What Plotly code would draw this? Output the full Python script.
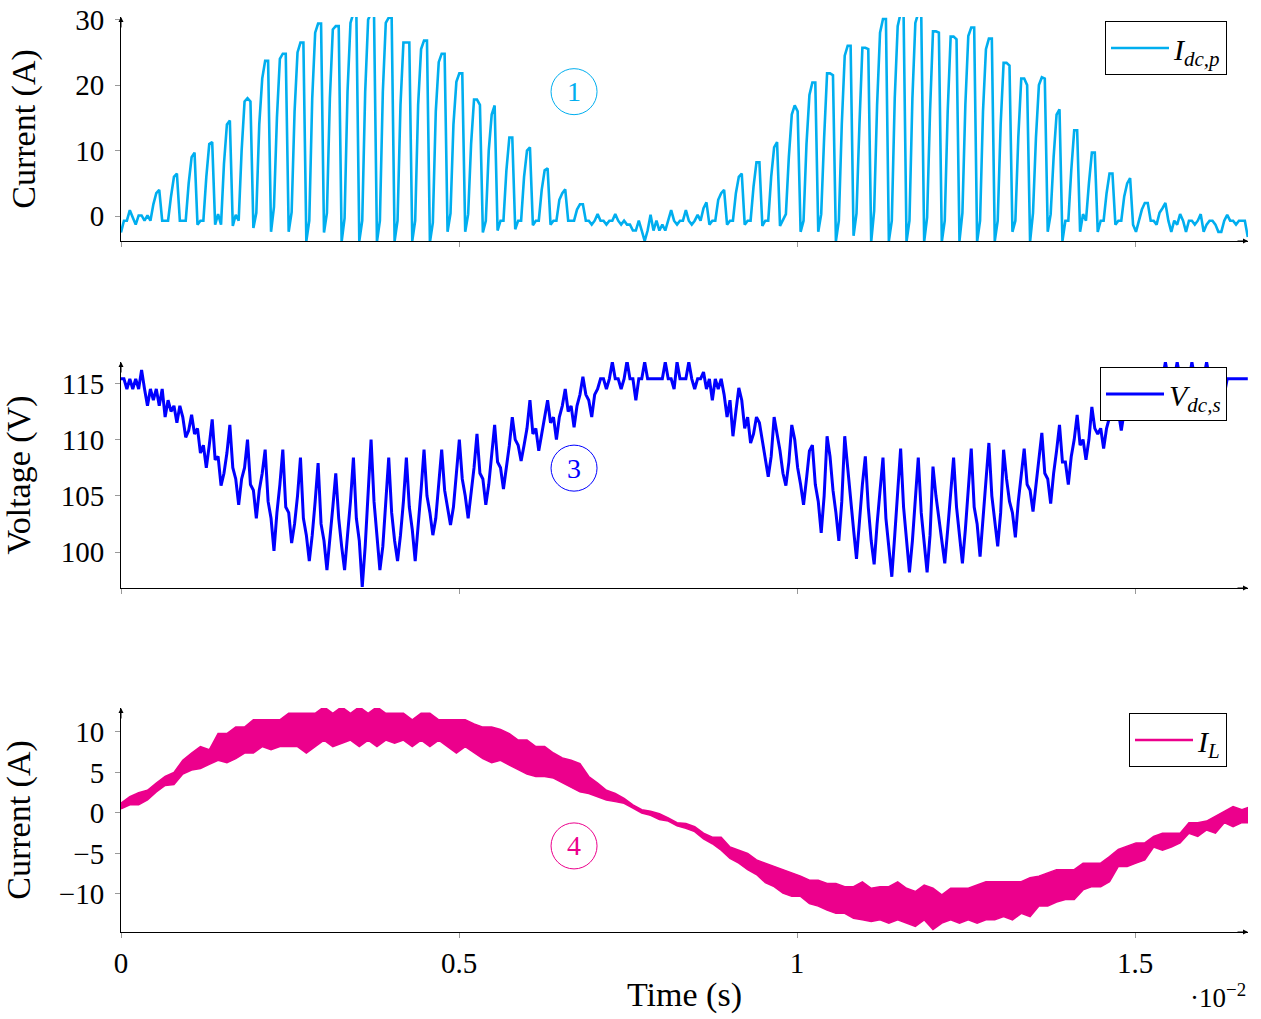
import plotly.graph_objects as go
from plotly.subplots import make_subplots

# ---------------- data ----------------
PERIOD = 2.611e-4          # switching period (s)
SAMPLES_PER_PERIOD = 6
X_MAX = 0.01667

# I_dc,p : one row per switching period (6 samples each)
idc_rows = [
    [-2.5, -0.7, -0.7, 0.9, -0.2, -1.3],
    [0.1, 0.1, -0.7, 0.1, -0.7, 1.8],
    [3.5, 4.0, -0.7, -0.7, -0.7, 3.0],
    [6.0, 6.5, -0.7, -0.7, -0.7, 5.0],
    [9.0, 9.7, -1.3, -0.7, -0.7, 6.0],
    [11.0, 11.3, -1.3, 0.3, -1.3, 8.0],
    [14.0, 14.6, -1.5, 0.2, -0.7, 10.0],
    [17.5, 18.0, 17.5, -1.8, 0.5, 14.0],
    [21.0, 23.7, 23.7, -2.4, 1.4, 15.0],
    [24.0, 24.8, 24.8, -2.4, 0.6, 16.0],
    [25.0, 26.5, 26.5, -3.8, -0.7, 18.0],
    [28.0, 29.4, 29.4, -2.5, 0.5, 18.0],
    [28.5, 29.0, 29.0, -3.9, -0.3, 19.0],
    [29.5, 31.0, 31.0, -3.8, -0.7, 19.0],
    [30.0, 31.0, 31.0, -3.9, -0.7, 19.0],
    [29.5, 30.3, 30.3, -3.8, -0.7, 17.0],
    [26.5, 26.5, 26.5, -3.8, -0.7, 17.0],
    [25.5, 26.8, 26.8, -4.0, -1.0, 16.0],
    [23.5, 24.8, 24.8, -2.4, 0.4, 14.0],
    [20.5, 21.8, 21.8, -2.4, 0.3, 11.0],
    [17.8, 17.8, 17.0, -2.5, -0.7, 10.0],
    [15.5, 16.9, -2.2, -0.7, -0.7, 7.0],
    [12.0, 12.0, -2.0, -0.7, -0.7, 6.0],
    [10.0, 10.5, -1.4, -0.7, -0.7, 4.0],
    [7.0, 7.3, -1.3, -0.7, -0.7, 2.5],
    [3.5, 4.1, -0.7, -0.7, -0.7, 1.0],
    [1.8, 1.8, -0.7, -0.7, -1.3, -0.7],
    [0.3, -0.7, -0.7, -1.3, -0.7, -0.7],
    [0.3, -0.7, -1.3, -0.7, -1.3, -1.3],
    [-2.2, -2.2, -0.7, -2.2, -3.8, -2.2],
    [0.2, -2.2, -0.7, -2.2, -1.3, -2.2],
    [-0.7, 0.9, -0.7, -1.3, -0.7, -0.7],
    [0.9, -0.7, -1.3, -0.7, 0.2, -0.7],
    [1.2, 2.1, -1.3, -0.7, -0.7, 2.5],
    [3.5, 4.0, -1.3, -0.7, -0.7, 3.5],
    [6.0, 6.5, -1.3, -0.7, -0.7, 4.5],
    [8.2, 8.2, -1.5, -0.7, -0.7, 6.0],
    [10.5, 11.3, -1.5, -0.7, 0.3, 9.0],
    [15.5, 16.9, 16.0, -2.4, -0.7, 11.0],
    [18.5, 20.4, 20.4, -2.4, 0.3, 12.0],
    [21.8, 21.8, 21.5, -3.8, -0.7, 14.0],
    [24.5, 26.0, 26.0, -3.0, 0.4, 14.0],
    [25.7, 25.7, 25.5, -3.9, 0.8, 17.0],
    [28.0, 30.1, 30.1, -3.8, -0.7, 18.0],
    [29.0, 31.0, 31.0, -3.9, -0.7, 18.0],
    [29.5, 31.0, 31.0, -3.9, -0.2, 16.0],
    [28.2, 28.2, 28.0, -3.9, -0.7, 16.0],
    [27.4, 27.4, 27.0, -3.8, 0.5, 17.0],
    [27.5, 28.8, 28.8, -3.9, -0.7, 16.0],
    [25.5, 27.1, 27.1, -3.8, -0.7, 14.0],
    [23.4, 23.4, 23.0, -2.4, -0.7, 12.0],
    [21.0, 21.0, 20.0, -3.9, 0.5, 12.0],
    [20.0, 21.2, 21.0, -2.4, 0.3, 9.0],
    [15.5, 16.3, -3.8, -0.7, -0.7, 7.0],
    [13.1, 13.1, -2.4, 0.3, -0.7, 5.0],
    [9.7, 9.7, -2.4, -0.7, -0.7, 3.5],
    [6.5, 6.5, -1.3, -0.7, -0.7, 3.0],
    [5.0, 5.8, -1.3, -2.4, -0.7, 1.0],
    [2.0, 2.0, -0.7, -0.7, -1.3, 0.5],
    [1.2, 2.0, -0.7, -2.4, -0.7, -1.3],
    [0.3, -0.7, -2.4, -0.7, -0.7, -1.3],
    [-0.7, 0.3, -2.4, -1.3, -0.7, -0.7],
    [-1.3, -2.4, -2.4, -0.7, 0.2, -0.7],
    [-0.7, -1.3, -0.7, -0.7, -0.7, -3.2],
]

# V_dc,s : one row per switching period (6 samples each)
vdc_rows = [
    [115.4, 115.4, 114.5, 115.4, 114.5, 115.4],
    [114.5, 116.2, 114.5, 113.0, 114.5, 113.5],
    [114.5, 113.0, 114.5, 112.0, 113.5, 112.5],
    [113.0, 111.5, 113.0, 112.0, 110.2, 110.8],
    [112.2, 110.5, 111.0, 108.8, 109.5, 107.5],
    [109.5, 111.8, 108.2, 108.5, 105.9, 107.0],
    [108.8, 111.3, 107.5, 106.5, 104.2, 106.5],
    [107.5, 110.0, 106.0, 105.5, 103.0, 105.5],
    [107.0, 109.1, 104.5, 103.0, 100.1, 103.5],
    [106.0, 109.1, 104.0, 103.5, 100.8, 102.5],
    [105.0, 108.4, 103.0, 101.5, 99.2, 101.5],
    [104.5, 107.9, 102.5, 101.0, 98.4, 101.0],
    [104.0, 107.0, 103.0, 100.5, 98.4, 101.5],
    [104.5, 108.4, 103.0, 101.0, 96.9, 100.5],
    [105.0, 110.0, 104.5, 101.5, 98.4, 100.5],
    [104.5, 108.4, 103.5, 101.0, 99.2, 101.5],
    [104.5, 108.4, 104.0, 102.0, 99.2, 102.0],
    [105.5, 109.1, 105.0, 103.5, 101.5, 103.0],
    [106.0, 109.1, 105.5, 104.0, 102.4, 104.0],
    [107.0, 110.0, 106.5, 105.0, 103.0, 105.0],
    [107.5, 110.5, 107.0, 106.5, 104.2, 106.0],
    [108.5, 111.3, 108.0, 107.5, 105.6, 107.5],
    [109.5, 112.0, 110.0, 109.5, 108.1, 109.5],
    [111.0, 113.5, 110.5, 111.0, 109.0, 110.5],
    [112.0, 113.5, 111.5, 112.0, 110.0, 112.0],
    [113.0, 114.5, 112.5, 113.0, 111.1, 113.0],
    [114.0, 115.6, 114.0, 113.5, 112.0, 114.0],
    [114.5, 115.4, 115.4, 114.5, 115.4, 116.9],
    [115.4, 115.4, 114.5, 115.4, 117.0, 115.4],
    [115.4, 113.5, 115.4, 115.4, 116.9, 115.4],
    [115.4, 115.4, 115.4, 115.4, 115.4, 116.9],
    [115.4, 115.4, 114.5, 116.9, 115.4, 115.4],
    [115.4, 116.9, 115.4, 114.5, 115.4, 115.4],
    [116.0, 114.5, 115.4, 113.5, 115.4, 114.5],
    [115.4, 114.0, 112.0, 113.5, 110.3, 112.5],
    [114.6, 113.5, 111.0, 112.0, 109.7, 110.5],
    [112.0, 111.5, 110.0, 108.5, 106.7, 108.5],
    [112.0, 110.5, 109.0, 107.0, 105.9, 108.0],
    [111.3, 110.0, 107.5, 106.0, 104.2, 106.5],
    [109.0, 109.5, 106.0, 104.5, 101.7, 105.0],
    [110.3, 108.5, 105.5, 103.5, 101.0, 104.5],
    [110.3, 107.5, 104.5, 102.0, 99.4, 103.0],
    [106.0, 108.5, 104.0, 101.0, 98.9, 102.5],
    [105.5, 108.4, 103.0, 100.5, 97.8, 101.5],
    [105.0, 109.2, 104.0, 101.0, 98.2, 101.0],
    [104.5, 108.4, 103.5, 100.5, 98.2, 101.5],
    [107.6, 105.0, 103.0, 101.0, 99.0, 102.0],
    [105.5, 108.4, 104.0, 101.5, 99.0, 102.0],
    [105.5, 109.2, 104.0, 102.5, 99.6, 103.0],
    [106.5, 109.7, 105.0, 103.0, 100.5, 103.5],
    [109.1, 106.5, 104.5, 103.5, 101.3, 104.5],
    [107.0, 109.2, 106.0, 105.5, 103.6, 106.0],
    [108.0, 110.6, 107.0, 106.5, 104.3, 107.0],
    [109.0, 111.3, 108.0, 108.0, 106.0, 108.5],
    [110.0, 112.2, 109.5, 110.0, 108.2, 110.0],
    [112.9, 111.0, 110.5, 111.0, 109.2, 111.0],
    [112.0, 113.8, 112.0, 112.5, 110.8, 112.5],
    [113.5, 114.5, 113.0, 113.5, 112.0, 113.5],
    [114.5, 115.5, 114.0, 114.5, 113.0, 114.5],
    [115.4, 116.9, 115.4, 114.5, 115.4, 116.9],
    [115.4, 115.4, 113.5, 115.4, 116.9, 115.4],
    [114.0, 115.4, 115.4, 116.9, 115.4, 113.4],
    [115.4, 115.4, 115.4, 114.0, 115.4, 115.4],
    [115.4, 115.4, 115.4, 115.4, 115.4, 115.4],
]

# I_L ripple band: upper / lower envelope, sampled every half period
il_upper = [
    1.2, 2.0, 2.5, 2.8, 3.7, 4.5, 5.0, 6.5, 7.4, 8.2,
    7.8, 9.8, 9.8, 10.6, 10.6, 11.5, 11.5, 11.5, 11.5, 12.3,
    12.3, 12.3, 12.3, 13.1, 12.3, 13.1, 12.3, 13.1, 12.3, 13.1,
    12.3, 12.3, 12.3, 11.5, 12.3, 12.3, 11.5, 11.5, 11.5, 11.5,
    11.0, 10.6, 10.6, 10.3, 9.8, 9.0, 9.0, 8.2, 8.2, 7.4,
    6.8, 6.5, 6.1, 4.5, 3.7, 2.8, 2.4, 1.8, 1.0, 0.4,
    0.2, -0.1, -0.6, -1.2, -1.3, -1.7, -2.5, -3.0, -3.0, -4.2,
    -4.6, -5.0, -5.8, -6.2, -6.6, -7.0, -7.4, -7.8, -8.3, -8.3,
    -8.7, -8.7, -9.1, -9.1, -8.5, -9.3, -9.1, -9.1, -8.5, -9.3,
    -9.7, -8.9, -9.3, -10.1, -9.3, -9.3, -9.3, -8.9, -8.5, -8.5,
    -8.5, -8.5, -8.5, -8.0, -7.8, -7.4, -7.0, -7.0, -7.0, -6.2,
    -6.2, -6.2, -5.4, -4.5, -4.1, -3.7, -3.7, -2.9, -2.5, -2.5,
    -2.5, -1.2, -1.2, -1.0, -0.4, 0.2, 0.8, 0.4, 0.8,
]
il_lower = [
    0.5, 1.0, 1.0, 1.6, 2.6, 3.4, 3.5, 4.8, 5.3, 5.5,
    6.0, 6.5, 6.2, 6.7, 7.4, 7.4, 8.2, 7.8, 8.2, 8.2,
    8.2, 7.4, 8.2, 9.0, 8.2, 8.6, 9.0, 8.2, 9.0, 8.2,
    9.0, 8.6, 9.0, 8.2, 9.0, 8.2, 9.0, 8.2, 7.4, 8.2,
    7.4, 6.7, 6.2, 6.5, 5.9, 5.3, 4.8, 4.5, 4.5, 4.3,
    3.7, 3.2, 2.6, 2.4, 2.0, 1.6, 1.4, 1.2, 0.6, 0.0,
    -0.3, -0.8, -1.0, -1.6, -1.9, -2.3, -3.2, -3.8, -4.6, -5.6,
    -6.2, -7.0, -7.6, -8.6, -9.1, -9.9, -10.3, -10.3, -11.2, -11.5,
    -12.0, -12.4, -12.4, -13.0, -13.2, -13.4, -13.2, -13.6, -13.2, -13.6,
    -14.0, -13.2, -14.4, -13.6, -13.2, -13.6, -13.2, -13.6, -13.2, -13.2,
    -12.8, -13.2, -12.4, -12.8, -11.5, -11.5, -11.0, -10.7, -10.7, -9.5,
    -9.1, -9.1, -8.5, -6.6, -6.6, -6.2, -5.8, -4.2, -4.6, -4.2,
    -3.7, -2.5, -2.9, -2.1, -2.5, -1.2, -1.7, -1.2, -1.2,
]

x_tick_vals = [0, 0.005, 0.01, 0.015]
x_tick_text = ["0", "0.5", "1", "1.5"]
top_tick_vals = [0, 10, 20, 30]
mid_tick_vals = [100, 105, 110, 115]
bot_tick_vals = [-10, -5, 0, 5, 10]

# ---------------- build series ----------------
idc = [v for row in idc_rows for v in row]
vdc = [v for row in vdc_rows for v in row]
dt = PERIOD / SAMPLES_PER_PERIOD
t_fine = [i * dt for i in range(len(idc))]
t_half = [i * PERIOD / 2 for i in range(len(il_upper))]

CYAN = "#00AEEF"
BLUE = "#0000FF"
MAGENTA = "#EC008C"
FONT = "Liberation Serif"

fig = make_subplots(rows=3, cols=1, shared_xaxes=False, vertical_spacing=0.0)

fig.add_trace(go.Scatter(x=t_fine, y=idc, mode="lines", line=dict(color=CYAN, width=2.6),
                         name="<i>I</i><sub><i>dc,p</i></sub>", legend="legend"), row=1, col=1)
fig.add_trace(go.Scatter(x=t_fine, y=vdc, mode="lines", line=dict(color=BLUE, width=3),
                         name="<i>V</i><sub><i>dc,s</i></sub>", legend="legend2"), row=2, col=1)
fig.add_trace(go.Scatter(x=t_half, y=il_upper, mode="lines", line=dict(color=MAGENTA, width=1.5),
                         showlegend=False, hoverinfo="skip"), row=3, col=1)
fig.add_trace(go.Scatter(x=t_half, y=il_lower, mode="lines", line=dict(color=MAGENTA, width=1.5),
                         fill="tonexty", fillcolor=MAGENTA, showlegend=False), row=3, col=1)
fig.add_trace(go.Scatter(x=[None], y=[None], mode="lines", line=dict(color=MAGENTA, width=2.6),
                         name="<i>I</i><sub><i>L</i></sub>", legend="legend3"), row=3, col=1)

W, H = 1261, 1019
ml, mr, mt, mb = 121, 13, 17, 87
ph = H - mt - mb
def py(pix):
    return (H - mb - pix) / ph

dom_top = [py(241), py(17)]
dom_mid = [py(588), py(362)]
dom_bot = [py(932), py(708)]

axis_common = dict(showline=True, linecolor="black", linewidth=1, ticks="outside", ticklen=5,
                   tickcolor="#999999", tickwidth=1, showgrid=False, zeroline=False, automargin=False,
                   tickfont=dict(family=FONT, size=29, color="black"), ticklabeloverflow="allow")
TITLE_FONT = dict(family=FONT, size=34, color="black")

for r, dom in zip([1, 2, 3], [dom_top, dom_mid, dom_bot]):
    fig.update_xaxes(range=[0, X_MAX], tickvals=x_tick_vals, ticktext=x_tick_text,
                     showticklabels=(r == 3), row=r, col=1, **axis_common)
    fig.update_yaxes(domain=dom, row=r, col=1, ticklabelstandoff=5, **axis_common)

fig.update_yaxes(range=[-3.8, 30.4], tickvals=top_tick_vals, row=1, col=1,
                 title=dict(text="Current (A)", font=TITLE_FONT, standoff=29))
fig.update_yaxes(range=[96.8, 116.9], tickvals=mid_tick_vals, row=2, col=1,
                 title=dict(text="Voltage (V)", font=TITLE_FONT, standoff=29))
fig.update_yaxes(range=[-14.7, 12.96], tickvals=bot_tick_vals, row=3, col=1,
                 title=dict(text="Current (A)", font=TITLE_FONT, standoff=29))
fig.update_xaxes(row=3, col=1, title=dict(text="Time (s)", font=TITLE_FONT, standoff=4))

legend_common = dict(bgcolor="white", bordercolor="black", borderwidth=1,
                     font=dict(family=FONT, size=30, color="black"), xanchor="right", yanchor="top",
                     x=(1227 - ml) / (W - ml - mr), itemwidth=58, tracegroupgap=0)
fig.update_layout(
    width=W, height=H, margin=dict(l=ml, r=mr, t=mt, b=mb),
    plot_bgcolor="white", paper_bgcolor="white",
    legend=dict(y=py(21), **legend_common),
    legend2=dict(y=py(367), **legend_common),
    legend3=dict(y=py(713), **legend_common),
)

# axis arrows
for r in ["", "2", "3"]:
    fig.add_annotation(x=1, y=0, xref=f"x{r} domain", yref=f"y{r} domain", ax=-12, ay=0,
                       text="", showarrow=True, arrowhead=2, arrowsize=1, arrowwidth=1, arrowcolor="black")
    fig.add_annotation(x=0, y=1, xref=f"x{r} domain", yref=f"y{r} domain", ax=0, ay=12,
                       text="", showarrow=True, arrowhead=2, arrowsize=1, arrowwidth=1, arrowcolor="black")

# circled labels
labels = [("1", "x", "y", 19.0, CYAN), ("3", "x2", "y2", 107.46, BLUE), ("4", "x3", "y3", -4.07, MAGENTA)]
for txt, xr, yr, yv, col in labels:
    xv = (574 - ml) / 67600
    fig.add_shape(type="circle", xref=xr, yref=yr, xsizemode="pixel", ysizemode="pixel",
                  xanchor=xv, yanchor=yv, x0=-23, x1=23, y0=-23, y1=23,
                  line=dict(color=col, width=1))
    fig.add_annotation(x=xv, y=yv, xref=xr, yref=yr, text=txt, showarrow=False,
                       font=dict(family=FONT, size=28, color=col))

fig.add_annotation(x=1, y=py(996), xref="paper", yref="paper", xanchor="right", yanchor="middle",
                   text="·10<sup>−2</sup>", showarrow=False, font=dict(family=FONT, size=27, color="black"))

# remove the browser's default 8px body margin so the figure sits at the page origin
fig.write_html("out.html", config={"displayModeBar": False},
               post_script="document.body.style.margin='0';")
